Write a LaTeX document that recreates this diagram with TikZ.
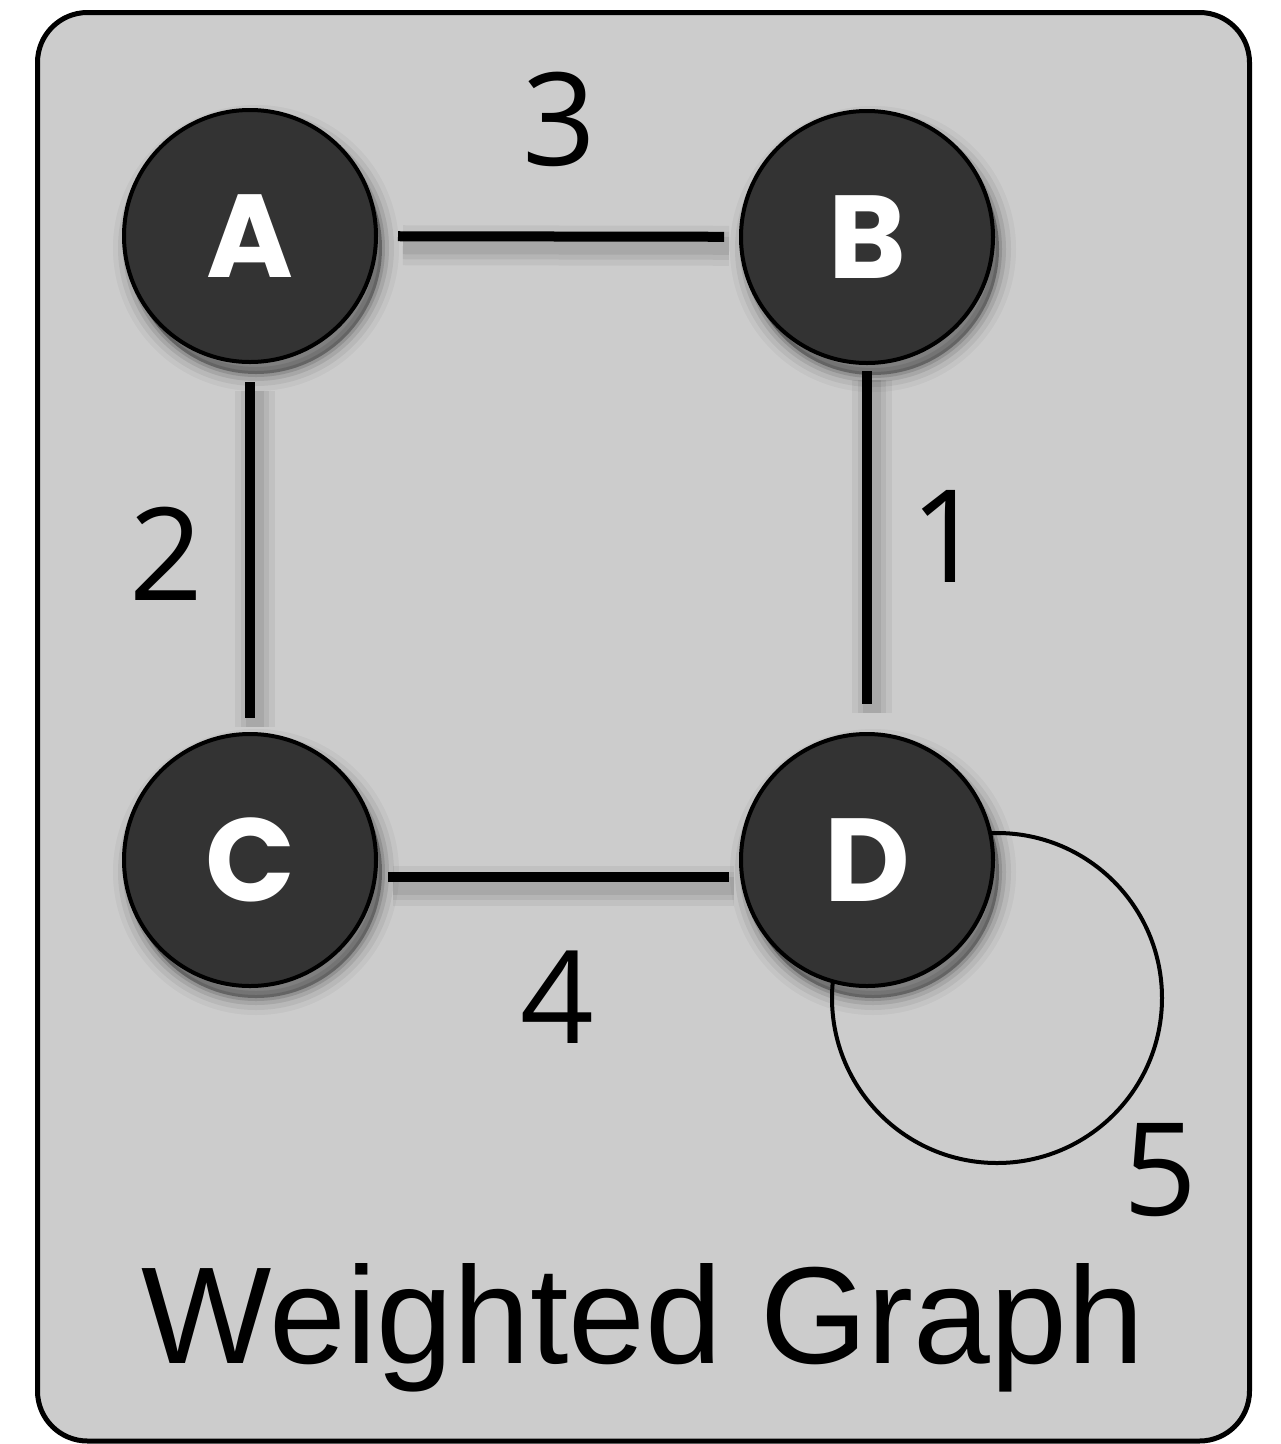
\documentclass[tikz,border=0pt]{standalone}
\usepackage{fontspec}
\setmainfont{Liberation Sans}
\newfontfamily\digitfont{Open Sans}
\newfontfamily\letterfont{Poppins}
\usetikzlibrary{calc}
\definecolor{panelgray}{HTML}{CCCCCC}
\definecolor{vertexfill}{HTML}{333333}
\tikzset{
  panel/.style={draw=black, line width=5pt, fill=panelgray, rounded corners=50pt},
  nodeshade/.style 2 args={preaction={draw=black, draw opacity=#1, line width=#2,
      transform canvas={shift={(6pt,-12pt)}}}},
  vertex/.style={circle, draw=black, line width=4pt, fill=vertexfill,
    minimum size=252pt, inner sep=0pt, text=white,
    font=\letterfont\bfseries\fontsize{118}{118}\selectfont,
    preaction={fill=black, fill opacity=0.3, transform canvas={shift={(6pt,-12pt)}}},
    nodeshade={0.12}{6pt}, nodeshade={0.09}{14pt}, nodeshade={0.06}{24pt}, nodeshade={0.04}{34pt}},
  shadelayer/.style 2 args={preaction={draw=black, draw opacity=#1, line width=#2,
      transform canvas={shift={(5pt,-9pt)}}}},
  edgeline/.style={draw=black, line width=10pt,
    shadelayer={0.05}{40pt}, shadelayer={0.06}{28pt}, shadelayer={0.07}{18pt}},
  loopline/.style={draw=black, line width=4pt},
  weight/.style={inner sep=0pt, anchor=base, font=\digitfont\fontsize{129}{129}\selectfont},
  title/.style={inner sep=0pt, anchor=base, font=\fontsize{138}{138}\selectfont}
}
\begin{document}
\begin{tikzpicture}[x=1pt, y=-1pt]
\useasboundingbox (0,0) rectangle (1281,1444);
\path[panel] (37.5,12.5) rectangle (1249.5,1441);

% vertex positions
\coordinate (pA) at (250,236);
\coordinate (pB) at (867,237);
\coordinate (pC) at (250,860);
\coordinate (pD) at (867,860);

% self loop of D (drawn beneath the vertex)
\draw[loopline] ($(pD)+(130,138)$) circle[radius=165pt];

% vertices
\node[vertex] (A) at (pA) {A};
\node[vertex] (B) at (pB) {B};
\node[vertex] (C) at (pC) {C};
\node[vertex] (D) at (pD) {D};

% edges
\draw[edgeline, shorten <=20pt, shorten >=15pt] (A) -- (B);
\draw[edgeline, shorten <=18pt, shorten >=14pt] (A) -- (C);
\draw[edgeline, shorten <=6pt, shorten >=28pt] (B) -- (D);
\draw[edgeline, shorten <=10pt, shorten >=10pt] ([yshift=-17pt]C.east) -- ([yshift=-17pt]D.west);

% weights
\node[weight] (w3) at (559,165) {3};
\node[weight] (w2) at (166,600) {2};
\node[weight] (w1) at (947,582) {1};
\node[weight] (w4) at (557,1043) {4};
\node[weight] (w5) at (1160,1215) {5};

\node[title] (t) at (643,1363) {Weighted Graph};
\end{tikzpicture}
\end{document}
